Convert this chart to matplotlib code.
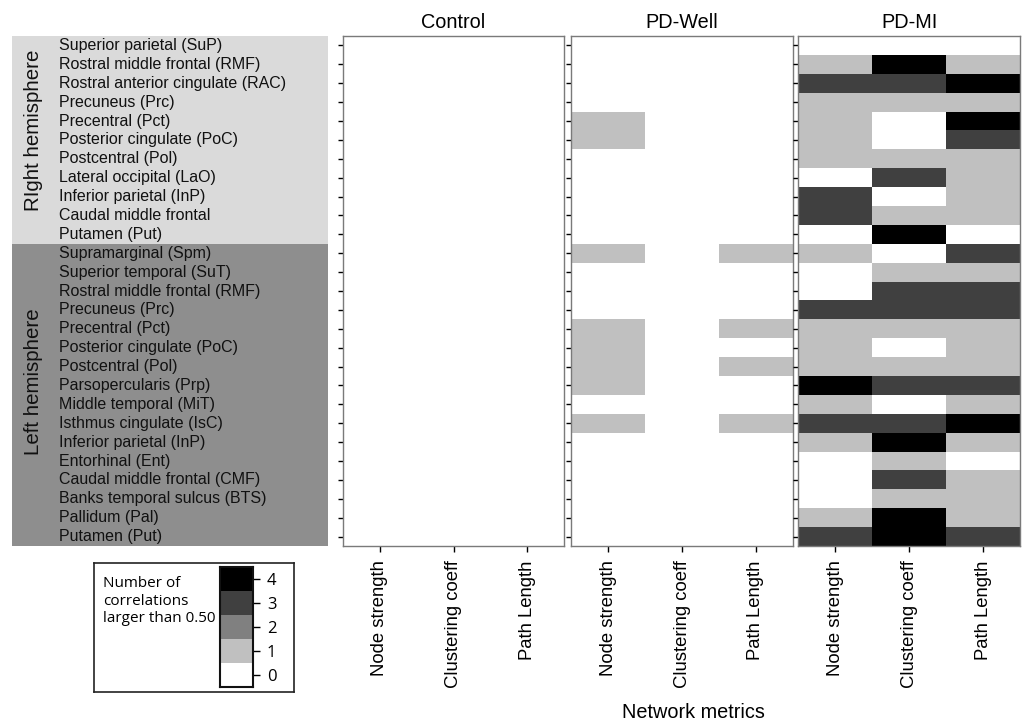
import matplotlib
matplotlib.use("Agg")
import matplotlib.pyplot as plt
from matplotlib.colors import ListedColormap, BoundaryNorm
from matplotlib.patches import Rectangle
import numpy as np

plt.rcParams['font.family'] = ['Liberation Sans', 'DejaVu Sans']

# ---------------- data ----------------
right_regions = ["Superior parietal (SuP)", "Rostral middle frontal (RMF)",
                 "Rostral anterior cingulate (RAC)", "Precuneus (Prc)",
                 "Precentral (Pct)", "Posterior cingulate (PoC)", "Postcentral (Pol)",
                 "Lateral occipital (LaO)", "Inferior parietal (InP)",
                 "Caudal middle frontal", "Putamen (Put)"]
left_regions = ["Supramarginal (Spm)", "Superior temporal (SuT)",
                "Rostral middle frontal (RMF)", "Precuneus (Prc)", "Precentral (Pct)",
                "Posterior cingulate (PoC)", "Postcentral (Pol)", "Parsopercularis (Prp)",
                "Middle temporal (MiT)", "Isthmus cingulate (IsC)", "Inferior parietal (InP)",
                "Entorhinal (Ent)", "Caudal middle frontal (CMF)",
                "Banks temporal sulcus (BTS)", "Pallidum (Pal)", "Putamen (Put)"]
hemisphere_names = ["RIght hemisphere", "Left hemisphere"]
metrics = ["Node strength", "Clustering coeff", "Path Length"]
groups = ["Control", "PD-Well", "PD-MI"]

control_node = [0] * 27
control_clust = [0] * 27
control_path = [0] * 27

pdwell_node = [0, 0, 0, 0, 1, 1, 0, 0, 0, 0, 0,
               1, 0, 0, 0, 1, 1, 1, 1, 0, 1, 0, 0, 0, 0, 0, 0]
pdwell_clust = [0] * 27
pdwell_path = [0, 0, 0, 0, 0, 0, 0, 0, 0, 0, 0,
               1, 0, 0, 0, 1, 0, 1, 0, 0, 1, 0, 0, 0, 0, 0, 0]

pdmi_node = [0, 1, 3, 1, 1, 1, 1, 0, 3, 3, 0,
             1, 0, 0, 3, 1, 1, 1, 4, 1, 3, 1, 0, 0, 0, 1, 3]
pdmi_clust = [0, 4, 3, 1, 0, 0, 1, 3, 0, 1, 4,
              0, 1, 3, 3, 1, 0, 1, 3, 0, 3, 4, 1, 3, 1, 4, 4]
pdmi_path = [0, 1, 4, 1, 4, 3, 1, 1, 1, 1, 0,
             3, 1, 3, 3, 1, 1, 1, 3, 1, 4, 1, 0, 1, 1, 1, 3]

legend_levels = [0, 1, 2, 3, 4]
legend_title = "Number of\ncorrelations\nlarger than 0.50"

panel_data = [
    np.array([control_node, control_clust, control_path]).T,
    np.array([pdwell_node, pdwell_clust, pdwell_path]).T,
    np.array([pdmi_node, pdmi_clust, pdmi_path]).T,
]

# ---------------- style ----------------
level_colors = ["#ffffff", "#c0c0c0", "#808080", "#404040", "#000000"]
cmap = ListedColormap(level_colors)
norm = BoundaryNorm(np.arange(-0.5, 5.5, 1), cmap.N)

W, H = 1022, 724
fig = plt.figure(figsize=(W / 100, H / 100), dpi=100)


def px_axes(x0, y0, x1, y1):
    return fig.add_axes([x0 / W, 1 - y1 / H, (x1 - x0) / W, (y1 - y0) / H])


regions = right_regions + left_regions
n_rows = len(regions)
n_right = len(right_regions)

panel_x = [(343, 564), (571, 793), (798, 1020)]
top, bottom = 36, 546
border_col = "#7a7a7a"

for (x0, x1), data, name in zip(panel_x, panel_data, groups):
    ax = px_axes(x0, top, x1, bottom)
    ax.imshow(data, cmap=cmap, norm=norm, aspect='auto', interpolation='nearest',
              extent=(-0.5, 2.5, n_rows - 0.5, -0.5))
    ax.set_xlim(-0.5, 2.5)
    ax.set_ylim(n_rows - 0.5, -0.5)
    ax.set_yticks(range(n_rows))
    ax.set_yticklabels([])
    ax.set_xticks(range(len(metrics)))
    ax.set_xticklabels(metrics, rotation=90, fontsize=13.3, va='top')
    ax.tick_params(axis='y', length=3.5, width=1, color='black', direction='out')
    ax.tick_params(axis='x', length=4.5, width=1, color='black', direction='out', pad=6)
    for s in ax.spines.values():
        s.set_color(border_col)
        s.set_linewidth(1)
    ax.set_title(name, fontsize=14.3, pad=6)

# label panel with hemisphere boxes
lab = px_axes(12, top, 328, bottom)
lab.set_xlim(0, 316)
lab.set_ylim(n_rows - 0.5, -0.5)
lab.axis('off')
lab.add_patch(Rectangle((0, -0.5), 316, n_right, facecolor="#dadada", edgecolor='none'))
lab.add_patch(Rectangle((0, n_right - 0.5), 316, n_rows - n_right,
                        facecolor="#8e8e8e", edgecolor='none'))
for i, r in enumerate(regions):
    lab.text(47, i, r, fontsize=11.5, va='center', ha='left', color='#111111')
lab.text(22, 4.5, hemisphere_names[0], rotation=90, fontsize=14.8,
         va='center', ha='center', color='#111111')
lab.text(22, 17.8, hemisphere_names[1], rotation=90, fontsize=14.8,
         va='center', ha='center', color='#111111')

# x-axis title
fig.text(693 / W, 1 - 713 / H, "Network metrics", fontsize=14.3, ha='center', va='center')

# legend box
lg = px_axes(94, 563, 294, 692)
lg.set_xticks([])
lg.set_yticks([])
for s in lg.spines.values():
    s.set_color('#222222')
    s.set_linewidth(1.2)
lg.text(0.045, 0.9, legend_title, transform=lg.transAxes, fontsize=11,
        family=['Open Sans', 'DejaVu Sans'], va='top', ha='left', linespacing=1.25)

cax = px_axes(220, 567, 253, 687)
cax.imshow(np.array(legend_levels).reshape(-1, 1), cmap=cmap, norm=norm,
           aspect='auto', origin='lower', extent=(0, 1, -0.5, 4.5))
cax.set_xticks([])
cax.set_yticks(legend_levels)
cax.set_yticklabels([str(v) for v in legend_levels], fontsize=12,
                    family=['Open Sans', 'DejaVu Sans'])
cax.yaxis.tick_right()
cax.tick_params(axis='y', length=5, width=1, pad=5)
for s in cax.spines.values():
    s.set_color('#111111')
    s.set_linewidth(1.5)

fig.savefig("out.png", dpi=100, facecolor='white')
